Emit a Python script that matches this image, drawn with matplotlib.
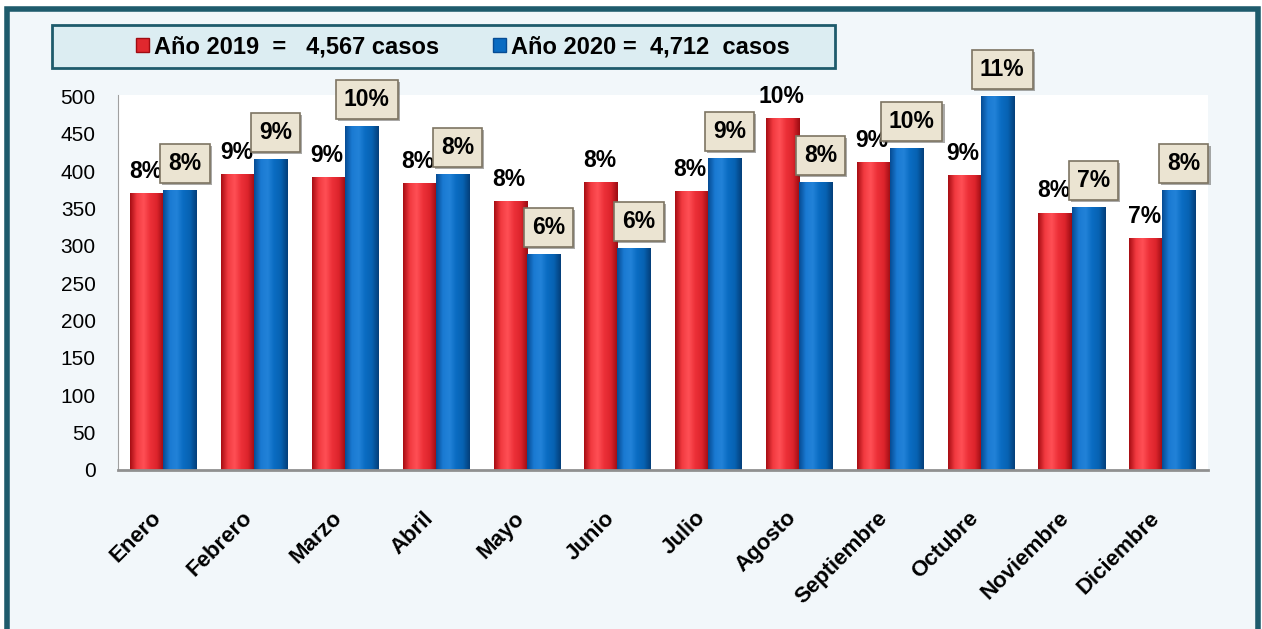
import numpy as np
import matplotlib
matplotlib.use("Agg")
import matplotlib.pyplot as plt
import matplotlib.patheffects as pe
from matplotlib.colors import LinearSegmentedColormap
from matplotlib.patches import Rectangle
from matplotlib.transforms import ScaledTranslation

months = ["Enero", "Febrero", "Marzo", "Abril", "Mayo", "Junio", "Julio",
          "Agosto", "Septiembre", "Octubre", "Noviembre", "Diciembre"]
cases_2019 = [370, 395, 391, 383, 359, 385, 373, 470, 411, 394, 344, 310]
cases_2020 = [374, 415, 460, 396, 288, 297, 417, 385, 430, 500, 351, 374]
pct_2019 = ["8%", "9%", "9%", "8%", "8%", "8%", "8%", "10%", "9%", "9%", "8%", "7%"]
pct_2020 = ["8%", "9%", "10%", "8%", "6%", "6%", "9%", "8%", "10%", "11%", "7%", "8%"]
legend_labels = ["Año 2019  =   4,567 casos", "Año 2020 =  4,712  casos"]

plt.rcParams["font.family"] = ["Liberation Sans", "DejaVu Sans"]

red_cmap = LinearSegmentedColormap.from_list(
    "red3d", ["#a80e14", "#f23a40", "#ff4f55", "#ec3038", "#dc242c", "#9c0c12"])
blue_cmap = LinearSegmentedColormap.from_list(
    "blue3d", ["#064c94", "#1a7ad2", "#2282d8", "#0a6cc2", "#0762b2", "#043f7a"])

fig = plt.figure(figsize=(12.62, 6.29), dpi=100, facecolor="white")

# outer frame and legend box
fig.add_artist(Rectangle((0.0055, -0.05), 0.9915, 1.036, transform=fig.transFigure,
                         facecolor="#f2f7fa", edgecolor="#1e5b6c", linewidth=4, zorder=-10))
fig.add_artist(Rectangle((0.0412, 0.8919), 0.6204, 0.0684, transform=fig.transFigure,
                         facecolor="#dcedf2", edgecolor="#1e5b6c", linewidth=2, zorder=-5))

ax = fig.add_axes([0.0935, 0.2528, 0.8635, 0.5962])
ax.set_zorder(5)
ax.set_facecolor("white")

x = np.arange(len(months))
w = 0.365
bars_red = ax.bar(x - w / 2, cases_2019, w, color="none", zorder=2)
bars_blue = ax.bar(x + w / 2, cases_2020, w, color="none", zorder=2)

grad = np.linspace(0, 1, 64).reshape(1, -1)
for bars, cmap in [(bars_red, red_cmap), (bars_blue, blue_cmap)]:
    for p in bars:
        x0, h, bw = p.get_x(), p.get_height(), p.get_width()
        ax.imshow(grad, extent=[x0, x0 + bw, 0, h], aspect="auto", cmap=cmap, zorder=2)

ax.set_xlim(-0.5, len(months) - 0.5)
ax.set_ylim(0, 502)
ax.set_yticks(np.arange(0, 501, 50))
ax.tick_params(axis="y", length=0, labelsize=15, pad=16)
ax.tick_params(axis="x", length=0, pad=27)
ax.set_xticks(x)
ax.set_xticklabels(months, rotation=45, ha="right", va="top", rotation_mode="anchor",
                   fontsize=16, fontweight="bold")
shift = ScaledTranslation(-13 / 100, 0, fig.dpi_scale_trans)
for lab in ax.get_xticklabels():
    lab.set_transform(lab.get_transform() + shift)

for side in ["top", "right"]:
    ax.spines[side].set_visible(False)
ax.spines["left"].set_color("#a0a0a0")
ax.spines["bottom"].set_color("#909090")
ax.spines["bottom"].set_linewidth(2)

for p, lab in zip(bars_red, pct_2019):
    ax.annotate(lab, (p.get_x() + p.get_width() / 2, p.get_height()),
                xytext=(-1, 16), textcoords="offset points", ha="center", va="center",
                fontsize=16.5, fontweight="bold", zorder=5)
for p, lab in zip(bars_blue, pct_2020):
    t = ax.annotate(lab, (p.get_x() + p.get_width() / 2, p.get_height()),
                    xytext=(3.6, 19.5), textcoords="offset points", ha="center", va="center",
                    fontsize=16.5, fontweight="bold", zorder=6, annotation_clip=False,
                    bbox=dict(boxstyle="square,pad=0.35", facecolor="#ebe4d2",
                              edgecolor="#7d7462", linewidth=1.2))
    t.get_bbox_patch().set_path_effects(
        [pe.SimplePatchShadow(offset=(1.5, -1.5), alpha=0.45), pe.Normal()])

handles = [Rectangle((0, 0), 1, 1, facecolor="#e0282e", edgecolor="#a00c12"),
           Rectangle((0, 0), 1, 1, facecolor="#0a6cc2", edgecolor="#064c94")]
fig.legend(handles, legend_labels, loc="center", bbox_to_anchor=(0.367, 0.926), ncol=2,
           frameon=False, prop={"weight": "bold", "size": 17}, handlelength=0.55,
           handleheight=0.55, handletextpad=0.2, columnspacing=2.3)

fig.savefig("out.png", dpi=100, facecolor=fig.get_facecolor())
